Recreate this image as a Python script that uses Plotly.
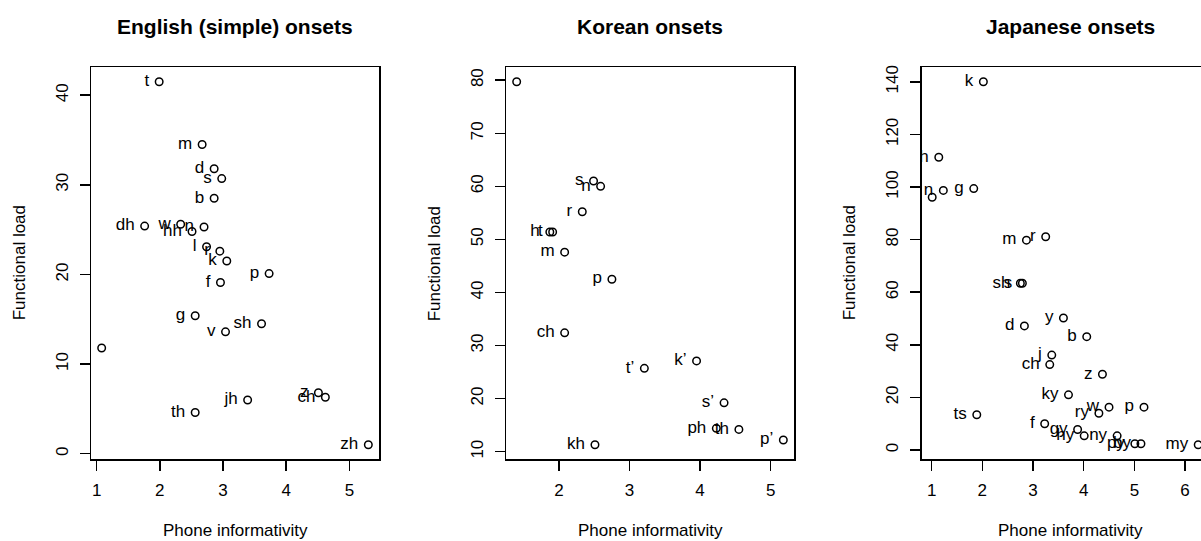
import plotly.graph_objects as go

# ---------------- data ----------------
en_labels = ["t", "m", "d", "s", "b", "dh", "w", "hh", "n", "l", "r", "k", "p", "f",
             "g", "v", "sh", "", "z", "ch", "jh", "th", "zh"]
en_x = [1.99, 2.67, 2.86, 2.98, 2.86, 1.76, 2.33, 2.51, 2.70, 2.74, 2.95, 3.06, 3.73, 2.96,
        2.56, 3.04, 3.61, 1.08, 4.51, 4.62, 3.39, 2.56, 5.30]
en_y = [41.5, 34.5, 31.8, 30.7, 28.5, 25.4, 25.6, 24.8, 25.3, 23.1, 22.6, 21.5, 20.1, 19.1,
        15.4, 13.6, 14.5, 11.8, 6.8, 6.3, 6.0, 4.6, 1.0]

ko_labels = ["", "s", "n", "r", "h", "t", "m", "p", "ch", "t\u2019", "k\u2019", "s\u2019",
             "ph", "th", "p\u2019", "kh"]
ko_x = [1.40, 2.49, 2.59, 2.33, 1.87, 1.91, 2.08, 2.75, 2.08, 3.21, 3.95, 4.34,
        4.23, 4.55, 5.18, 2.51]
ko_y = [79.7, 61.0, 60.0, 55.2, 51.4, 51.4, 47.6, 42.5, 32.4, 25.7, 27.1, 19.2,
        14.4, 14.2, 12.2, 11.3]

ja_labels = ["k", "h", "", "n", "g", "m", "r", "sh", "s", "d", "y", "b", "j", "ch", "z",
             "ky", "w", "ry", "p", "ts", "f", "gy", "hy", "ny", "py", "by", "my"]
ja_x = [2.02, 1.14, 1.01, 1.23, 1.83, 2.87, 3.25, 2.75, 2.79, 2.83, 3.60, 4.06, 3.37, 3.33,
        4.37, 3.70, 4.50, 4.30, 5.19, 1.89, 3.23, 3.88, 4.01, 4.66, 5.01, 5.13, 6.26]
ja_y = [140.0, 111.3, 96.1, 98.7, 99.4, 79.8, 81.1, 63.4, 63.4, 47.2, 50.2, 43.1, 36.1, 32.5,
        28.8, 21.0, 16.3, 14.0, 16.3, 13.4, 10.0, 7.8, 5.4, 5.4, 2.4, 2.4, 2.0]

titles = ["English (simple) onsets", "Korean onsets", "Japanese onsets"]
x_title = "Phone informativity"
y_title = "Functional load"

en_xticks = [1, 2, 3, 4, 5]
en_yticks = [0, 10, 20, 30, 40]
ko_xticks = [2, 3, 4, 5]
ko_yticks = [10, 20, 30, 40, 50, 60, 70, 80]
ja_xticks = [1, 2, 3, 4, 5, 6]
ja_yticks = [0, 20, 40, 60, 80, 100, 120, 140]

# ---------------- layout helpers ----------------
W, H = 1201, 541
FONT = "Liberation Sans, Arial, Helvetica, sans-serif"
FS = 17


def r_range(v):
    lo, hi = min(v), max(v)
    pad = 0.04 * (hi - lo)
    return [lo - pad, hi + pad]


box_left = [91, 506, 921.7]
box_right = [379, 794, 1201]
box_top, box_bottom = 65.5, 459
ydom = [(H - box_bottom) / H, (H - box_top) / H]

panels = [
    (en_x, en_y, en_labels, en_xticks, en_yticks, r_range(en_x), r_range(en_y)),
    (ko_x, ko_y, ko_labels, ko_xticks, ko_yticks, r_range(ko_x), r_range(ko_y)),
    (ja_x, ja_y, ja_labels, ja_xticks, ja_yticks, [0.803, 6.315], r_range(ja_y)),
]

fig = go.Figure()
annotations = []
layout_axes = {}

for i, (xs, ys, labs, xt, yt, xr, yr) in enumerate(panels):
    n = "" if i == 0 else str(i + 1)
    xa, ya = "x" + n, "y" + n
    # point labels (text placed left of the point, R pos=2 style)
    fig.add_trace(go.Scatter(
        x=xs, y=ys, text=labs, mode="markers+text", textposition="middle left",
        marker=dict(size=14.4, color="rgba(0,0,0,0)", line=dict(width=0)),
        textfont=dict(family=FONT, size=FS, color="black"),
        xaxis=xa, yaxis=ya, showlegend=False, hoverinfo="skip", cliponaxis=True))
    # open circles
    fig.add_trace(go.Scatter(
        x=xs, y=ys, mode="markers",
        marker=dict(symbol="circle-open", size=7.5, color="black", line=dict(width=1.5)),
        xaxis=xa, yaxis=ya, showlegend=False, cliponaxis=True))

    xdom = [box_left[i] / W, box_right[i] / W]
    common = dict(showgrid=False, zeroline=False, showline=True, linecolor="black",
                  linewidth=1.5, ticks="outside", ticklen=10, tickwidth=1.5,
                  tickcolor="black", tickfont=dict(family=FONT, size=FS, color="black"))
    layout_axes["xaxis" + n] = dict(domain=xdom, range=xr, anchor=ya, mirror=True,
                                    tickvals=xt, ticklabelstandoff=5, **common)
    layout_axes["yaxis" + n] = dict(domain=ydom, range=yr, anchor=xa,
                                    mirror=(i < 2), tickvals=yt, tickangle=-90,
                                    ticklabelstandoff=5, **common)

    cx = (box_left[i] + (box_right[i] if i < 2 else 1219)) / 2
    annotations.append(dict(text="<b>%s</b>" % titles[i], x=cx / W, y=1 - 24.5 / H,
                            xref="paper", yref="paper", showarrow=False,
                            xanchor="center", yanchor="middle",
                            font=dict(family=FONT, size=21, color="black")))
    annotations.append(dict(text=x_title, x=cx / W, y=1 - 530 / H,
                            xref="paper", yref="paper", showarrow=False,
                            xanchor="center", yanchor="middle",
                            font=dict(family=FONT, size=FS, color="black")))
    annotations.append(dict(text=y_title, x=(19 + 415 * i) / W,
                            y=1 - (box_top + box_bottom) / 2 / H,
                            xref="paper", yref="paper", showarrow=False, textangle=-90,
                            xanchor="center", yanchor="middle",
                            font=dict(family=FONT, size=FS, color="black")))

fig.update_layout(
    width=W, height=H, margin=dict(l=0, r=0, t=0, b=0, pad=0),
    paper_bgcolor="white", plot_bgcolor="white",
    annotations=annotations, **layout_axes)

fig.write_html("out.html", config={"displayModeBar": False, "staticPlot": True},
               post_script="document.body.style.margin='0px';document.body.style.overflow='hidden';")
